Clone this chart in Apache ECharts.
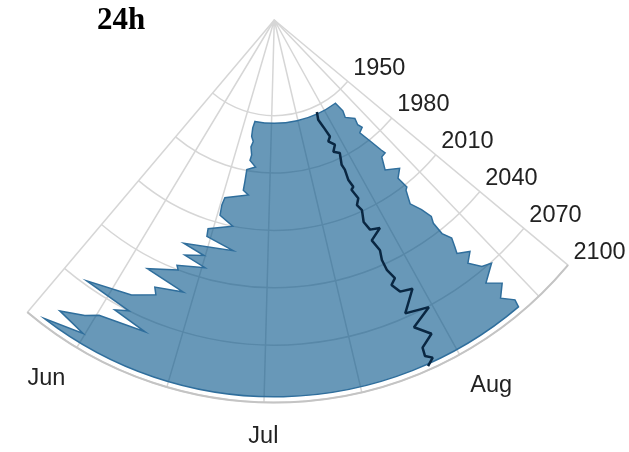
<!DOCTYPE html>
<html>
<head>
<meta charset="utf-8">
<script src="https://cdn.jsdelivr.net/npm/echarts@6/dist/echarts.min.js"></script>
<style>
html,body{margin:0;padding:0;background:#fff;}
#chart{width:629px;height:452px;}
</style>
</head>
<body>
<div id="chart"></div>
<script>
// ---- data (year, day of year) ----
const titleText = '24h';
const radiusTicks = [1950, 1980, 2010, 2040, 2070, 2100];
const monthTicks = [152, 182, 213];
const monthLabels = ['Jun', 'Jul', 'Aug'];
const gridDays = [152, 167, 182, 197, 213, 228];

// first day of the period, per year (left edge of the area)
const startDates = [
  [1954,172.6],[1957.5,172.1],[1962,172.4],[1964.5,173.6],[1967.5,173.0],[1971.5,173.9],
  [1974.5,173.6],[1977.5,176.2],[1979.5,173.0],[1986,173.1],[1990.5,173.1],[1992.5,175.0],
  [1996.5,167.8],[2000.5,167.5],[2006,167.8],[2010,172.0],[2014.5,165.7],[2018.5,166.0],
  [2022.5,173.3],[2026,161.2],[2028.5,166.7],[2031.5,162.4],[2034.5,167.7],[2038,161.6],
  [2040,162.2],[2046,156.1],[2050,164.8],[2053,159.1],[2056.5,159.9],[2062,155.7],
  [2068,147.3],[2070,156.6],[2073,154.3],[2076.5,160.7],[2079.5,152.4],[2083.5,150.4],
  [2089,146.6],[2092,151.7],[2097,145.4]
];
// last day of the period, per year (right edge of the area)
const endDates = [
  [1954,220.4],[1959.5,221.2],[1963,220.2],[1966.5,223.5],[1970,222.7],[1972.5,223.5],
  [1974,221.3],[1980.5,222.5],[1988,223.6],[1990.5,224.0],[1991,222.3],[1997.5,220.6],
  [2001.5,224.4],[2005,222.2],[2011.5,222.6],[2012.5,221.9],[2019.5,220.6],[2025.5,222.0],
  [2031.5,222.8],[2035,222.2],[2042,222.3],[2047,223.3],[2051.5,222.7],[2055,222.2],
  [2058.5,224.4],[2062.5,222.7],[2068.5,224.3],[2070.5,226.0],[2076.5,223.0],[2082,225.1],
  [2087.5,223.3],[2093,224.9],[2097,224.6]
];
// central line
const meanLine = [
  [1953,208.8],[1957,207.7],[1961.5,208.6],[1967.5,209.5],[1969.5,207.9],[1972.5,209.9],
  [1975.5,208.1],[1977.5,210.2],[1983.5,208.9],[1986.5,209.2],[1992,208.8],[1996.5,209.3],
  [1997.5,208.4],[2003,209.2],[2006,208.0],[2009.5,208.7],[2015.5,207.8],[2020.5,208.5],
  [2022,210.9],[2026,207.8],[2032.5,208.6],[2037.5,208.1],[2043.5,208.2],[2049,209.0],
  [2051.5,207.8],[2056.5,208.8],[2058,211.2],[2068,208.0],[2070.5,212.3],[2076.5,208.4],
  [2083.5,210.6],[2088,208.3],[2092.5,208.1],[2095,209.1],[2098,207.9]
];

const yearMin = 1900, yearMax = 2100;
const dayMin = 142.75, dayMax = 234.5;

const chart = echarts.init(document.getElementById('chart'), null, {renderer: 'canvas'});
const gridColor = '#d6d6d6';
const labelFont = {fontFamily: 'Liberation Sans, Arial, sans-serif', fontSize: 23.5, color: '#222'};

chart.setOption({
  animation: false,
  backgroundColor: '#fff',
  title: {
    text: titleText, left: 97, top: 5, padding: 0,
    textStyle: {fontFamily: 'Liberation Serif, Times New Roman, serif', fontWeight: 'bold', fontSize: 31, color: '#000'}
  },
  polar: [
    {center: [274.3, 20], radius: 382.5},
    {center: [274.3, 20], radius: 382.5}
  ],
  angleAxis: [
    {
      polarIndex: 0, type: 'value', min: dayMin, max: dayMax,
      startAngle: -130.2, endAngle: -39.85, clockwise: false,
      axisLine: {show: true, lineStyle: {color: '#c4c4c4', width: 2}},
      axisTick: {show: false, customValues: gridDays},
      splitLine: {show: true, lineStyle: {color: gridColor, width: 1.5}},
      axisLabel: Object.assign({
        customValues: monthTicks, margin: 22,
        formatter: function (v) { const i = monthTicks.indexOf(v); return i >= 0 ? monthLabels[i] : ''; }
      }, labelFont)
    },
    {
      polarIndex: 1, type: 'value', min: dayMin, max: dayMax, show: false,
      startAngle: -39.85, endAngle: -130.2, clockwise: true
    }
  ],
  radiusAxis: [
    {
      polarIndex: 0, type: 'value', min: yearMin, max: yearMax,
      axisLine: {show: true, lineStyle: {color: gridColor, width: 1.5}},
      axisTick: {show: false, customValues: radiusTicks},
      axisLabel: {show: false, customValues: radiusTicks},
      splitLine: {show: true, lineStyle: {color: gridColor, width: 1.5}}
    },
    {
      polarIndex: 1, type: 'value', min: yearMin, max: yearMax,
      axisLine: {show: true, lineStyle: {color: gridColor, width: 1.5}},
      axisTick: {show: false, customValues: radiusTicks},
      splitLine: {show: false},
      axisLabel: Object.assign({
        customValues: radiusTicks, margin: 8.5, verticalAlign: 'bottom', lineHeight: 13,
        formatter: function (v) { return String(v); }
      }, labelFont)
    }
  ],
  series: [
    {
      type: 'custom', coordinateSystem: 'polar', polarIndex: 0,
      data: [startDates[0]],
      z: 2,
      renderItem: function (params, api) {
        const cs = params.coordSys;
        const left = startDates.map(function (p) { return api.coord([p[0], p[1]]); });
        const right = endDates.map(function (p) { return api.coord([p[0], p[1]]); });
        const rad = function (pt) { return Math.hypot(pt[0] - cs.cx, pt[1] - cs.cy); };
        let d = 'M' + left[0][0] + ' ' + left[0][1];
        for (let i = 1; i < left.length; i++) d += ' L' + left[i][0] + ' ' + left[i][1];
        const lastR = right[right.length - 1];
        const rb = rad(lastR);
        d += ' A' + rb + ' ' + rb + ' 0 0 0 ' + lastR[0] + ' ' + lastR[1];
        for (let i = right.length - 2; i >= 0; i--) d += ' L' + right[i][0] + ' ' + right[i][1];
        const rt = rad(left[0]);
        d += ' A' + rt + ' ' + rt + ' 0 0 1 ' + left[0][0] + ' ' + left[0][1] + ' Z';
        return {
          type: 'path',
          shape: {pathData: d},
          style: {fill: 'rgba(3,83,137,0.6)', stroke: '#2f6e9c', lineWidth: 1.5, lineJoin: 'miter'}
        };
      }
    },
    {
      type: 'line', coordinateSystem: 'polar', polarIndex: 0,
      data: meanLine, showSymbol: false, symbol: 'none', z: 3,
      lineStyle: {color: '#0a2742', width: 2.5}
    }
  ]
});
</script>
</body>
</html>
